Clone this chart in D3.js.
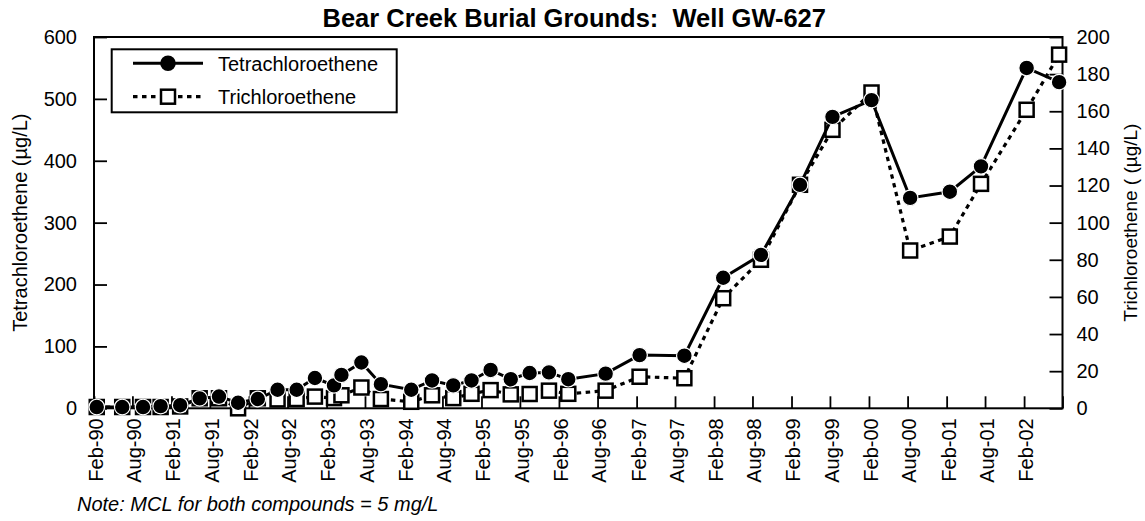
<!DOCTYPE html>
<html>
<head>
<meta charset="utf-8">
<script src="https://cdn.jsdelivr.net/npm/d3@7"></script>
<style>
  html, body { margin: 0; padding: 0; background: #fff; }
  svg { display: block; font-family: "Liberation Sans", Arial, Helvetica, sans-serif; }
</style>
</head>
<body>
<svg id="chart" width="1145" height="521"></svg>
<script>
// ---- data ----
const sampleDates = [
  "1990-02-14","1990-06-14","1990-09-20","1990-12-12","1991-03-14","1991-06-14","1991-09-13","1991-12-12",
  "1992-03-14","1992-06-15","1992-09-13","1992-12-08","1993-03-08","1993-04-12","1993-07-15","1993-10-15",
  "1994-03-07","1994-06-13","1994-09-21","1994-12-16","1995-03-16","1995-06-19","1995-09-16","1995-12-16",
  "1996-03-16","1996-09-08","1997-02-15","1997-09-14","1998-03-16","1998-09-10","1999-03-13","1999-08-13",
  "2000-02-13","2000-08-13","2001-02-16","2001-07-13","2002-02-13","2002-07-16"
];
const tetrachloroethene = [2,2,2,3.5,5,16,19,9,15,30,30,49,37,54,74,39,30,45,37,45,62,47,57,58,47,56,86,85,211,248,361,471,498,340,350,391,550,527];
const trichloroethene = [0.7,0.7,0.7,0.7,1,5.4,5.4,0,5.4,4.8,5,6.3,5.5,7,11.2,5,3.5,7,5.5,7.8,9.8,7.5,7.7,9.5,7.8,9.5,17,16.2,59.3,80,120.4,150,170.1,85,92.5,120.9,160.8,190.5];
const xTickLabels = ["Feb-90","Aug-90","Feb-91","Aug-91","Feb-92","Aug-92","Feb-93","Aug-93","Feb-94","Aug-94","Feb-95","Aug-95","Feb-96","Aug-96","Feb-97","Aug-97","Feb-98","Aug-98","Feb-99","Aug-99","Feb-00","Aug-00","Feb-01","Aug-01","Feb-02","Aug-02"];
const leftTicks = [0,100,200,300,400,500,600];
const rightTicks = [0,20,40,60,80,100,120,140,160,180,200];
const xDomainLabels = ["Feb-90","Aug-02"];
const seriesNames = ["Tetrachloroethene","Trichloroethene"];
const titleText = "Bear Creek Burial Grounds:  Well GW-627";
const leftTitle = "Tetrachloroethene (\u00b5g/L)";
const rightTitle = "Trichloroethene ( (\u00b5g/L)";
const noteText = "Note: MCL for both compounds = 5 mg/L";

// ---- layout ----
const L = 94, R = 1062.5, T = 37, B = 408.3;
const svg = d3.select("#chart");
const parseD = d3.timeParse("%Y-%m-%d");
const parseTick = d3.timeParse("%b-%y");
const dates = sampleDates.map(parseD);
const tickDates = xTickLabels.map(parseTick);

const x = d3.scaleTime().domain(xDomainLabels.map(parseTick)).range([L, R]);
const yL = d3.scaleLinear().domain([0, 600]).range([B, T]);
const yR = d3.scaleLinear().domain([0, 200]).range([B, T]);

const FS = 20;

// title
svg.append("text").attr("x", (L + R) / 2 - 4).attr("y", 27)
  .attr("text-anchor", "middle").attr("font-weight", "bold").attr("font-size", 25.5)
  .style("white-space", "pre")
  .text(titleText);

// axes
const gL = svg.append("g").attr("transform", `translate(${L},0)`)
  .call(d3.axisLeft(yL).tickValues(leftTicks).tickSizeInner(-13).tickSizeOuter(0).tickPadding(17));
const gR = svg.append("g").attr("transform", `translate(${R},0)`)
  .call(d3.axisRight(yR).tickValues(rightTicks).tickSizeInner(-13).tickSizeOuter(0).tickPadding(14));
const fmtTick = (d) => xTickLabels[tickDates.findIndex(t => +t === +d)];
const gB = svg.append("g").attr("transform", `translate(0,${B})`)
  .call(d3.axisBottom(x).tickValues(tickDates).tickSizeInner(-12).tickSizeOuter(0).tickFormat(fmtTick));

[gL, gR, gB].forEach(g => {
  g.select(".domain").remove();
  g.selectAll(".tick line").attr("stroke", "#000").attr("stroke-width", 1.8);
  g.selectAll(".tick text").attr("font-size", FS).attr("fill", "#000")
    .attr("font-family", "Liberation Sans, Arial, Helvetica, sans-serif");
});
gB.selectAll(".tick text")
  .attr("transform", "rotate(-90)")
  .attr("text-anchor", "end")
  .attr("x", -10).attr("y", 0).attr("dy", "0.42em")
  .filter((d, i) => i === xTickLabels.length - 1).remove();

// frame
svg.append("rect").attr("x", L).attr("y", T).attr("width", R - L).attr("height", B - T)
  .attr("fill", "none").attr("stroke", "#000").attr("stroke-width", 2);

// axis titles
svg.append("text").attr("transform", `translate(27,${(T + B) / 2}) rotate(-90)`)
  .attr("text-anchor", "middle").attr("font-size", FS).text(leftTitle);
svg.append("text").attr("transform", `translate(1137,${(T + B) / 2}) rotate(-90)`)
  .attr("text-anchor", "middle").attr("font-size", 19).style("white-space", "pre").text(rightTitle);

// series
const triPts = dates.map((d, i) => [d, trichloroethene[i]]);
const tetPts = dates.map((d, i) => [d, tetrachloroethene[i]]);

svg.append("path").datum(triPts)
  .attr("d", d3.line().x(d => x(d[0])).y(d => yR(d[1])))
  .attr("fill", "none").attr("stroke", "#000").attr("stroke-width", 3.2).attr("stroke-dasharray", "4.5,4.5");
const SQ = 14;
svg.append("g").selectAll("rect").data(triPts).join("rect")
  .attr("x", d => x(d[0]) - SQ / 2).attr("y", d => yR(d[1]) - SQ / 2)
  .attr("width", SQ).attr("height", SQ)
  .attr("fill", "#fff").attr("stroke", "#000").attr("stroke-width", 2.5);

svg.append("path").datum(tetPts)
  .attr("d", d3.line().x(d => x(d[0])).y(d => yL(d[1])))
  .attr("fill", "none").attr("stroke", "#000").attr("stroke-width", 3);
svg.append("g").selectAll("circle").data(tetPts).join("circle")
  .attr("cx", d => x(d[0])).attr("cy", d => yL(d[1])).attr("r", 7.8)
  .attr("fill", "#000").attr("stroke", "#fff").attr("stroke-width", 1.2);

// legend
const lg = svg.append("g");
lg.append("rect").attr("x", 111.7).attr("y", 49.3).attr("width", 285).attr("height", 63)
  .attr("fill", "#fff").attr("stroke", "#000").attr("stroke-width", 2);
const rows = [63.3, 96.7];
lg.append("line").attr("x1", 133).attr("x2", 203).attr("y1", rows[0]).attr("y2", rows[0])
  .attr("stroke", "#000").attr("stroke-width", 3);
lg.append("circle").attr("cx", 168).attr("cy", rows[0]).attr("r", 7.8).attr("fill", "#000");
lg.append("line").attr("x1", 133).attr("x2", 203).attr("y1", rows[1]).attr("y2", rows[1])
  .attr("stroke", "#000").attr("stroke-width", 3.2).attr("stroke-dasharray", "4.5,4.5");
lg.append("rect").attr("x", 168 - SQ / 2).attr("y", rows[1] - SQ / 2).attr("width", SQ).attr("height", SQ)
  .attr("fill", "#fff").attr("stroke", "#000").attr("stroke-width", 2.5);
seriesNames.forEach((n, i) => {
  lg.append("text").attr("x", 218).attr("y", rows[i]).attr("dy", "0.36em")
    .attr("font-size", FS).text(n);
});

// note
svg.append("text").attr("x", 77).attr("y", 511).attr("font-size", FS)
  .attr("font-style", "italic").text(noteText);
</script>
</body>
</html>
